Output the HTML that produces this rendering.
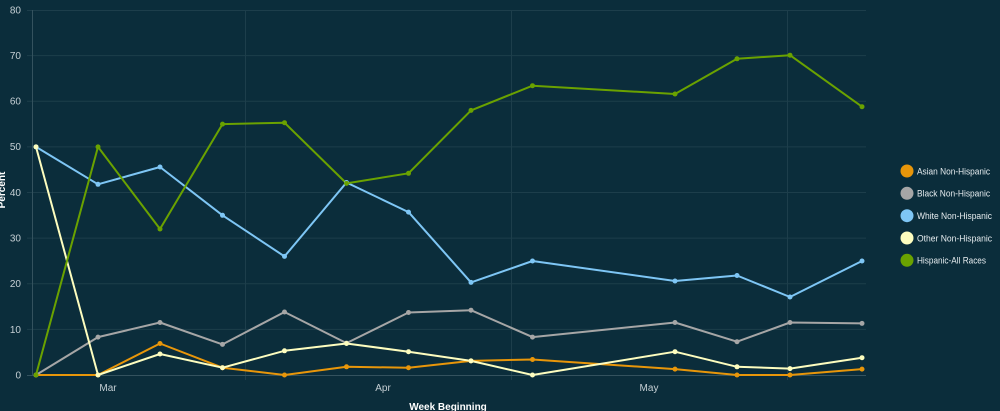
<!DOCTYPE html>
<html><head><meta charset="utf-8"><style>
html,body{margin:0;padding:0;background:#0b2d3b;}
svg{display:block;font-family:"Liberation Sans",sans-serif;}
</style></head><body>
<svg width="1000" height="411" viewBox="0 0 1000 411" xmlns="http://www.w3.org/2000/svg">
<rect width="1000" height="411" fill="#0b2d3b"/>
<g stroke="#1d3e4b" stroke-width="1">
<line x1="27" y1="10.5" x2="866" y2="10.5"/>
<line x1="27" y1="55.6" x2="866" y2="55.6"/>
<line x1="27" y1="101.3" x2="866" y2="101.3"/>
<line x1="27" y1="146.9" x2="866" y2="146.9"/>
<line x1="27" y1="192.5" x2="866" y2="192.5"/>
<line x1="27" y1="238.1" x2="866" y2="238.1"/>
<line x1="27" y1="283.8" x2="866" y2="283.8"/>
<line x1="27" y1="329.4" x2="866" y2="329.4"/>
<line x1="245.5" y1="10" x2="245.5" y2="380"/>
<line x1="511.5" y1="10" x2="511.5" y2="380"/>
<line x1="787.5" y1="10" x2="787.5" y2="380"/>
</g>
<line x1="32.5" y1="10" x2="32.5" y2="375" stroke="#34525e" stroke-width="1"/>
<line x1="27" y1="375.5" x2="866" y2="375.5" stroke="#34525e" stroke-width="1"/>
<g fill="#c5cfd4" font-size="10" text-anchor="end">
<text x="21" y="13.5">80</text>
<text x="21" y="59">70</text>
<text x="21" y="104.5">60</text>
<text x="21" y="150">50</text>
<text x="21" y="196">40</text>
<text x="21" y="241.5">30</text>
<text x="21" y="287">20</text>
<text x="21" y="333">10</text>
<text x="21" y="378.5">0</text>
</g>
<g fill="#c5cfd4" font-size="10" text-anchor="middle">
<text x="108" y="391">Mar</text>
<text x="383" y="391">Apr</text>
<text x="649" y="391">May</text>
</g>
<text x="448" y="410" fill="#ffffff" font-size="10" font-weight="bold" text-anchor="middle">Week Beginning</text>
<text transform="translate(5,190) rotate(-90)" fill="#ffffff" font-size="10" font-weight="bold" text-anchor="middle">Percent</text>

<g fill="none" stroke-width="2" stroke-linejoin="round">
<polyline stroke="#e8960a" points="36,375 98,375 160,343.5 222.5,367.7 284.5,375 346.5,366.8 408.5,367.7 471,360.9 532.5,359.5 675,369.1 737,375 790,375 862,369.1"/>
<polyline stroke="#a6a6a6" points="36,375 98,337.1 160,322.5 222.5,344.4 284.5,312 346.5,343.1 408.5,312.5 471,310.2 532.5,337.1 675,322.5 737,341.7 790,322.5 862,323.4"/>
<polyline stroke="#7ec6f5" points="36,146.9 98,184.3 160,167 222.5,215.3 284.5,256.4 346.5,182.5 408.5,212.1 471,282.4 532.5,261 675,281 737,275.5 790,297 862,261"/>
<polyline stroke="#fdfdbf" points="36,146.9 98,375 160,354 222.5,367.7 284.5,350.8 346.5,343.5 408.5,351.7 471,360.9 532.5,375 675,351.7 737,366.8 790,368.6 862,357.7"/>
<polyline stroke="#6aa200" points="36,375 98,146.9 160,229 222.5,124.1 284.5,122.7 346.5,183.4 408.5,173.3 471,110.4 532.5,85.7 675,94 737,58.8 790,55.2 862,106.7"/>
</g>
<g fill="#e8960a">
<circle cx="36" cy="375" r="2.5"/><circle cx="98" cy="375" r="2.5"/><circle cx="160" cy="343.5" r="2.5"/><circle cx="222.5" cy="367.7" r="2.5"/><circle cx="284.5" cy="375" r="2.5"/><circle cx="346.5" cy="366.8" r="2.5"/><circle cx="408.5" cy="367.7" r="2.5"/><circle cx="471" cy="360.9" r="2.5"/><circle cx="532.5" cy="359.5" r="2.5"/><circle cx="675" cy="369.1" r="2.5"/><circle cx="737" cy="375" r="2.5"/><circle cx="790" cy="375" r="2.5"/><circle cx="862" cy="369.1" r="2.5"/>
</g>
<g fill="#a6a6a6">
<circle cx="36" cy="375" r="2.5"/><circle cx="98" cy="337.1" r="2.5"/><circle cx="160" cy="322.5" r="2.5"/><circle cx="222.5" cy="344.4" r="2.5"/><circle cx="284.5" cy="312" r="2.5"/><circle cx="346.5" cy="343.1" r="2.5"/><circle cx="408.5" cy="312.5" r="2.5"/><circle cx="471" cy="310.2" r="2.5"/><circle cx="532.5" cy="337.1" r="2.5"/><circle cx="675" cy="322.5" r="2.5"/><circle cx="737" cy="341.7" r="2.5"/><circle cx="790" cy="322.5" r="2.5"/><circle cx="862" cy="323.4" r="2.5"/>
</g>
<g fill="#7ec6f5">
<circle cx="36" cy="146.9" r="2.5"/><circle cx="98" cy="184.3" r="2.5"/><circle cx="160" cy="167" r="2.5"/><circle cx="222.5" cy="215.3" r="2.5"/><circle cx="284.5" cy="256.4" r="2.5"/><circle cx="346.5" cy="182.5" r="2.5"/><circle cx="408.5" cy="212.1" r="2.5"/><circle cx="471" cy="282.4" r="2.5"/><circle cx="532.5" cy="261" r="2.5"/><circle cx="675" cy="281" r="2.5"/><circle cx="737" cy="275.5" r="2.5"/><circle cx="790" cy="297" r="2.5"/><circle cx="862" cy="261" r="2.5"/>
</g>
<g fill="#fdfdbf">
<circle cx="36" cy="146.9" r="2.5"/><circle cx="98" cy="375" r="2.5"/><circle cx="160" cy="354" r="2.5"/><circle cx="222.5" cy="367.7" r="2.5"/><circle cx="284.5" cy="350.8" r="2.5"/><circle cx="346.5" cy="343.5" r="2.5"/><circle cx="408.5" cy="351.7" r="2.5"/><circle cx="471" cy="360.9" r="2.5"/><circle cx="532.5" cy="375" r="2.5"/><circle cx="675" cy="351.7" r="2.5"/><circle cx="737" cy="366.8" r="2.5"/><circle cx="790" cy="368.6" r="2.5"/><circle cx="862" cy="357.7" r="2.5"/>
</g>
<g fill="#6aa200">
<circle cx="36" cy="375" r="2.5"/><circle cx="98" cy="146.9" r="2.5"/><circle cx="160" cy="229" r="2.5"/><circle cx="222.5" cy="124.1" r="2.5"/><circle cx="284.5" cy="122.7" r="2.5"/><circle cx="346.5" cy="183.4" r="2.5"/><circle cx="408.5" cy="173.3" r="2.5"/><circle cx="471" cy="110.4" r="2.5"/><circle cx="532.5" cy="85.7" r="2.5"/><circle cx="675" cy="94" r="2.5"/><circle cx="737" cy="58.8" r="2.5"/><circle cx="790" cy="55.2" r="2.5"/><circle cx="862" cy="106.7" r="2.5"/>
</g>

<g font-size="9" fill="#e6ecef">
<circle cx="907" cy="171" r="6.5" fill="#e8960a"/>
<text x="917" y="174.3" textLength="73" lengthAdjust="spacingAndGlyphs">Asian Non-Hispanic</text>
<circle cx="907" cy="193.3" r="6.5" fill="#a6a6a6"/>
<text x="917" y="196.6" textLength="73" lengthAdjust="spacingAndGlyphs">Black Non-Hispanic</text>
<circle cx="907" cy="215.7" r="6.5" fill="#7ec6f5"/>
<text x="917" y="219" textLength="75" lengthAdjust="spacingAndGlyphs">White Non-Hispanic</text>
<circle cx="907" cy="238" r="6.5" fill="#fdfdbf"/>
<text x="917" y="241.3" textLength="75" lengthAdjust="spacingAndGlyphs">Other Non-Hispanic</text>
<circle cx="907" cy="260.3" r="6.5" fill="#6aa200"/>
<text x="917" y="263.6" textLength="69" lengthAdjust="spacingAndGlyphs">Hispanic-All Races</text>
</g>
</svg>
</body></html>
